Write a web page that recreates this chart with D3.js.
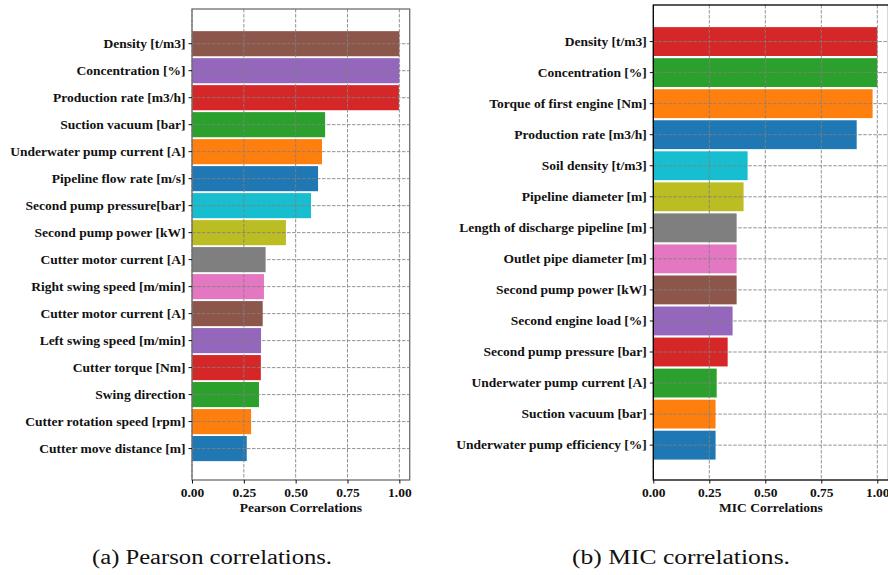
<!DOCTYPE html>
<html lang="en">
<head>
    <meta charset="UTF-8">
    <title>Pearson and MIC correlations</title>
    <script src="https://d3js.org/d3.v7.min.js"></script>
    <style>
        body { margin: 0; background: #fff; }
        svg { display: block; }
        .tick-label { font-family: "Liberation Serif", "Times New Roman", serif; font-weight: bold; font-size: 13.5px; fill: #111; }
        .axis-title { font-family: "Liberation Serif", "Times New Roman", serif; font-weight: bold; font-size: 13.5px; fill: #111; }
        .caption { font-family: "Liberation Serif", "DejaVu Serif", serif; font-size: 20px; fill: #111; }
    </style>
</head>
<body>
<div id="chart"></div>
<script>
    // Pearson (top to bottom)
    const pearsonLabels = [
        "Density [t/m3]", "Concentration [%]", "Production rate [m3/h]", "Suction vacuum [bar]",
        "Underwater pump current [A]", "Pipeline flow rate [m/s]", "Second pump pressure[bar]",
        "Second pump power [kW]", "Cutter motor current [A]", "Right swing speed [m/min]",
        "Cutter motor current [A]", "Left swing speed [m/min]", "Cutter torque [Nm]",
        "Swing direction", "Cutter rotation speed [rpm]", "Cutter move distance [m]"
    ];
    const pearsonValues = [1.0, 1.0, 0.998, 0.642, 0.627, 0.608, 0.574, 0.453, 0.355, 0.347, 0.341, 0.333, 0.332, 0.323, 0.285, 0.264];

    // MIC (top to bottom)
    const micLabels = [
        "Density [t/m3]", "Concentration [%]", "Torque of first engine [Nm]", "Production rate [m3/h]",
        "Soil density [t/m3]", "Pipeline diameter [m]", "Length of discharge pipeline [m]",
        "Outlet pipe diameter [m]", "Second pump power [kW]", "Second engine load [%]",
        "Second pump pressure [bar]", "Underwater pump current [A]", "Suction vacuum [bar]",
        "Underwater pump efficiency [%]"
    ];
    const micValues = [1.0, 1.0, 0.979, 0.908, 0.421, 0.403, 0.372, 0.372, 0.372, 0.354, 0.332, 0.283, 0.278, 0.278];

    const xTicks = [0, 0.25, 0.5, 0.75, 1.0];
    const captions = ["(a) Pearson correlations.", "(b) MIC correlations."];

    const tab10 = ["#1f77b4", "#ff7f0e", "#2ca02c", "#d62728", "#9467bd", "#8c564b", "#e377c2", "#7f7f7f", "#bcbd22", "#17becf"];

    const svg = d3.select("#chart").append("svg").attr("width", 888).attr("height", 575);

    function createBarChart(labels, values, box, title, frameColor) {
        const n = labels.length;
        const data = labels.map((l, i) => ({label: l, value: values[i], idx: i, key: i + "|" + l}));

        const x = d3.scaleLinear().domain([0, 1.05]).range([box.left, box.right]);
        const y = d3.scaleBand().domain(data.map(d => d.key)).range([box.top, box.bottom])
            .paddingInner(0.07).paddingOuter(box.outer).align(box.align);

        const g = svg.append("g");

        // bars, colours cycle from the bottom bar upward
        g.selectAll(".bar")
            .data(data)
            .enter()
            .append("rect")
            .attr("x", x(0))
            .attr("y", d => y(d.key))
            .attr("width", d => x(d.value) - x(0))
            .attr("height", y.bandwidth())
            .attr("fill", d => tab10[(n - 1 - d.idx) % 10]);

        // grid over the bars
        g.selectAll(".vgrid")
            .data(xTicks)
            .enter()
            .append("line")
            .attr("x1", d => x(d)).attr("x2", d => x(d))
            .attr("y1", box.top).attr("y2", box.bottom)
            .attr("stroke", "#808080").attr("stroke-opacity", 0.85)
            .attr("stroke-width", 1).attr("stroke-dasharray", "3.5,1.5");

        g.selectAll(".hgrid")
            .data(data)
            .enter()
            .append("line")
            .attr("x1", box.left).attr("x2", box.right)
            .attr("y1", d => y(d.key) + y.bandwidth() / 2)
            .attr("y2", d => y(d.key) + y.bandwidth() / 2)
            .attr("stroke", "#808080").attr("stroke-opacity", 0.85)
            .attr("stroke-width", 1).attr("stroke-dasharray", "3.5,1.5");

        // frame
        g.append("rect")
            .attr("x", box.left).attr("y", box.top)
            .attr("width", box.right - box.left).attr("height", box.bottom - box.top)
            .attr("fill", "none").attr("stroke", frameColor).attr("stroke-width", 1.3);

        // y axis
        const yAxis = g.append("g")
            .attr("transform", `translate(${box.left},0)`)
            .call(d3.axisLeft(y).tickSize(3.5).tickPadding(3).tickFormat(k => k.split("|")[1]));
        yAxis.select(".domain").remove();
        yAxis.selectAll("line").attr("stroke", "#111");
        yAxis.selectAll("text").attr("class", "tick-label").attr("font-size", null).attr("font-family", null);

        // x axis
        const xAxis = g.append("g")
            .attr("transform", `translate(0,${box.bottom})`)
            .call(d3.axisBottom(x).tickValues(xTicks).tickSize(3.5).tickPadding(4).tickFormat(d3.format(".2f")));
        xAxis.select(".domain").remove();
        xAxis.selectAll("line").attr("stroke", "#111");
        xAxis.selectAll("text").attr("class", "tick-label").attr("font-size", null).attr("font-family", null);

        g.append("text")
            .attr("class", "axis-title")
            .attr("x", (box.left + box.right) / 2)
            .attr("y", box.bottom + 32)
            .attr("text-anchor", "middle")
            .text(title);
    }

    createBarChart(pearsonLabels, pearsonValues,
        {left: 192, right: 409.7, top: 9, bottom: 480, outer: 0.76, align: 0.54}, "Pearson Correlations", "#6e6e6e");
    createBarChart(micLabels, micValues,
        {left: 653.3, right: 888.5, top: 5, bottom: 480, outer: 0.685, align: 0.52}, "MIC Correlations", "#000");

    svg.append("text").attr("class", "caption")
        .attr("x", 212).attr("y", 564).attr("text-anchor", "middle")
        .attr("textLength", 240).attr("lengthAdjust", "spacingAndGlyphs")
        .text(captions[0]);
    svg.append("text").attr("class", "caption")
        .attr("x", 681).attr("y", 564).attr("text-anchor", "middle")
        .attr("textLength", 218).attr("lengthAdjust", "spacingAndGlyphs")
        .text(captions[1]);
</script>
</body>
</html>
